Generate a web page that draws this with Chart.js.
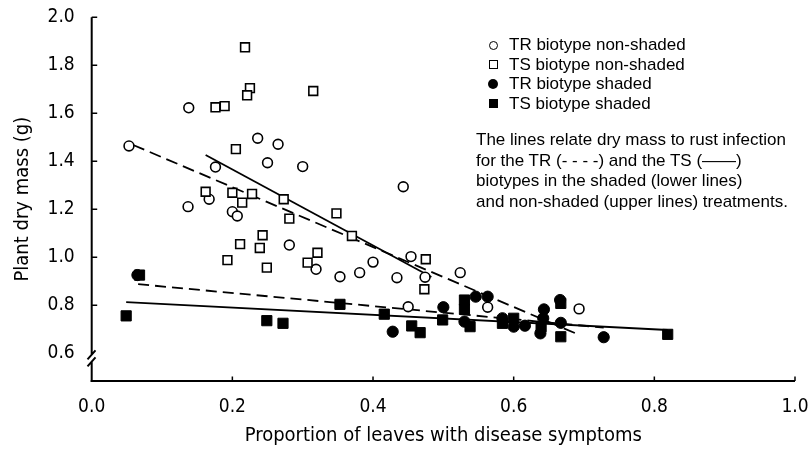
<!DOCTYPE html>
<html><head><meta charset="utf-8">
<script src="https://cdn.jsdelivr.net/npm/chart.js@4/dist/chart.umd.min.js"></script>
<style>
html,body{margin:0;padding:0;background:#fff;}
#wrap{position:relative;width:812px;height:449px;overflow:hidden;}
#c{position:absolute;left:0;top:0;}
.txt{position:absolute;font-family:"Liberation Sans",Arial,sans-serif;font-size:17px;color:#000;white-space:nowrap;}
.row{height:19.5px;line-height:19.5px;}
.mk{position:absolute;box-sizing:border-box;}
</style></head>
<body>
<div id="wrap">
<canvas id="c" width="812" height="449"></canvas>
<div class="txt" style="left:509px;top:35px;">
  <div class="row">TR biotype non-shaded</div>
  <div class="row">TS biotype non-shaded</div>
  <div class="row">TR biotype shaded</div>
  <div class="row">TS biotype shaded</div>
</div>
<div class="mk" style="left:488.5px;top:40.5px;width:9px;height:9px;border:1.5px solid #000;border-radius:50%;"></div>
<div class="mk" style="left:488.5px;top:60px;width:9px;height:9px;border:1.5px solid #000;"></div>
<div class="mk" style="left:488px;top:79px;width:10px;height:10px;background:#000;border-radius:50%;"></div>
<div class="mk" style="left:488.5px;top:98.5px;width:9.5px;height:9.5px;background:#000;"></div>
<div class="txt" style="left:476px;top:130px;line-height:20.5px;">
  The lines relate dry mass to rust infection<br>
  for the TR (- - - -) and the TS (——)<br>
  biotypes in the shaded (lower lines)<br>
  and non-shaded (upper lines) treatments.
</div>
</div>
<script>
// ---- data ----
const xTickValues = [0.0, 0.2, 0.4, 0.6, 0.8, 1.0];
const yTickValues = [0.6, 0.8, 1.0, 1.2, 1.4, 1.6, 1.8, 2.0];

// TR biotype non-shaded (open circles)
const trNonShadedX = [0.053,0.138,0.176,0.236,0.265,0.250,0.300,0.167,0.137,0.200,0.207,0.281,0.319,0.353,0.381,0.400,0.443,0.454,0.434,0.474,0.524,0.450,0.563,0.693];
const trNonShadedY = [1.464,1.623,1.376,1.496,1.471,1.394,1.378,1.242,1.211,1.190,1.172,1.051,0.950,0.919,0.936,0.980,1.294,1.003,0.915,0.917,0.936,0.794,0.792,0.785];

// TS biotype non-shaded (open squares)
const tsNonShadedX = [0.218,0.225,0.221,0.176,0.189,0.205,0.162,0.200,0.228,0.214,0.273,0.281,0.348,0.370,0.243,0.211,0.239,0.321,0.307,0.193,0.249,0.475,0.473,0.315];
const tsNonShadedY = [1.875,1.705,1.675,1.625,1.630,1.451,1.273,1.269,1.264,1.228,1.242,1.161,1.183,1.089,1.092,1.055,1.039,1.019,0.978,0.988,0.957,0.992,0.867,1.693];

// TR biotype shaded (filled circles)
const trShadedX = [0.065,0.428,0.500,0.546,0.563,0.530,0.584,0.600,0.616,0.642,0.643,0.638,0.666,0.667,0.728];
const trShadedY = [0.926,0.690,0.792,0.836,0.836,0.732,0.746,0.711,0.715,0.746,0.783,0.683,0.822,0.727,0.667];

// TS biotype shaded (filled squares)
const tsShadedX = [0.049,0.068,0.249,0.272,0.353,0.416,0.455,0.467,0.499,0.530,0.530,0.538,0.584,0.600,0.639,0.667,0.667,0.819];
const tsShadedY = [0.756,0.926,0.736,0.725,0.804,0.763,0.714,0.686,0.739,0.822,0.783,0.711,0.725,0.746,0.711,0.808,0.669,0.679];

// regression line end points
const fitTrNonShadedX = [0.059, 0.689], fitTrNonShadedY = [1.468, 0.682];
const fitTsNonShadedX = [0.162, 0.483], fitTsNonShadedY = [1.426, 0.918];
const fitTrShadedX    = [0.066, 0.728], fitTrShadedY    = [0.888, 0.707];
const fitTsShadedX    = [0.049, 0.819], fitTsShadedY    = [0.813, 0.697];

const pts = (xs, ys) => xs.map((x, i) => ({x: x, y: ys[i]}));

const axisDeco = {
  id: 'axisDeco',
  afterDraw(chart) {
    const ctx = chart.ctx, xs = chart.scales.x, ys = chart.scales.y;
    const x0 = xs.left, yb = ys.bottom;
    ctx.save();
    ctx.strokeStyle = '#000';
    ctx.lineWidth = 2;
    // x axis line
    ctx.beginPath(); ctx.moveTo(x0 - 1, yb); ctx.lineTo(xs.right, yb); ctx.stroke();
    // y axis line with break
    const yBrk = ys.getPixelForValue(0.6);
    ctx.beginPath();
    ctx.moveTo(x0, ys.top); ctx.lineTo(x0, yBrk + 1.3);
    ctx.moveTo(x0 + 3.8, yBrk - 3); ctx.lineTo(x0 - 4.2, yBrk + 6);
    ctx.moveTo(x0 + 3.8, yBrk + 4); ctx.lineTo(x0 - 4.2, yBrk + 13);
    ctx.moveTo(x0, yBrk + 8.3); ctx.lineTo(x0, yb + 1);
    ctx.stroke();
    // inward ticks
    ctx.lineWidth = 1.5;
    ctx.beginPath();
    xTickValues.forEach(v => { if (v > 0) { const p = xs.getPixelForValue(v); ctx.moveTo(p, yb); ctx.lineTo(p, yb - 4.5); } });
    yTickValues.forEach(v => { if (v > 0.61) { const p = ys.getPixelForValue(v); ctx.moveTo(x0, p); ctx.lineTo(x0 + 5.5, p); } });
    ctx.stroke();
    ctx.restore();
  }
};

const tickFont = {family: '"DejaVu Sans Condensed","DejaVu Sans",sans-serif', size: 19};
const titleFont = {family: '"DejaVu Sans Condensed","DejaVu Sans",sans-serif', size: 20};

new Chart(document.getElementById('c'), {
  type: 'scatter',
  data: {
    datasets: [
      {label: 'fit TR non-shaded', data: pts(fitTrNonShadedX, fitTrNonShadedY), showLine: true, pointRadius: 0, borderColor: '#000', borderWidth: 1.8, borderDash: [12, 6], order: 10},
      {label: 'fit TS non-shaded', data: pts(fitTsNonShadedX, fitTsNonShadedY), showLine: true, pointRadius: 0, borderColor: '#000', borderWidth: 1.8, order: 10},
      {label: 'fit TR shaded', data: pts(fitTrShadedX, fitTrShadedY), showLine: true, pointRadius: 0, borderColor: '#000', borderWidth: 1.8, borderDash: [11, 6], order: 10},
      {label: 'fit TS shaded', data: pts(fitTsShadedX, fitTsShadedY), showLine: true, pointRadius: 0, borderColor: '#000', borderWidth: 1.8, order: 10},
      {label: 'TR biotype non-shaded', data: pts(trNonShadedX, trNonShadedY), pointStyle: 'circle', pointRadius: 4.9, pointBorderWidth: 1.6, pointBorderColor: '#000', pointBackgroundColor: '#fff', order: 4},
      {label: 'TS biotype non-shaded', data: pts(tsNonShadedX, tsNonShadedY), pointStyle: 'rect', pointRadius: 6.2, pointBorderWidth: 1.6, pointBorderColor: '#000', pointBackgroundColor: '#fff', order: 3},
      {label: 'TR biotype shaded', data: pts(trShadedX, trShadedY), pointStyle: 'circle', pointRadius: 5.6, pointBorderWidth: 1, pointBorderColor: '#000', pointBackgroundColor: '#000', order: 2},
      {label: 'TS biotype shaded', data: pts(tsShadedX, tsShadedY), pointStyle: 'rect', pointRadius: 7.2, pointBorderWidth: 1, pointBorderColor: '#000', pointBackgroundColor: '#000', order: 1}
    ]
  },
  options: {
    responsive: false,
    animation: false,
    devicePixelRatio: 1,
    layout: {padding: {left: 0, right: 17, top: 17.3, bottom: 0}},
    plugins: {legend: {display: false}, tooltip: {enabled: false}},
    scales: {
      x: {
        type: 'linear', min: 0, max: 1,
        grid: {display: false, drawTicks: false},
        border: {display: false},
        afterBuildTicks: s => { s.ticks = xTickValues.map(v => ({value: v})); },
        afterFit: s => { s.height = 68; s.paddingLeft = 0; s.paddingRight = 0; },
        ticks: {color: '#000', font: tickFont, padding: 15, maxRotation: 0, callback: v => Number(v).toFixed(1)},
        title: {display: true, text: 'Proportion of leaves with disease symptoms', color: '#000', font: titleFont, padding: {top: 0, bottom: 1}}
      },
      y: {
        type: 'linear', min: 0.4846, max: 2.0,
        grid: {display: false, drawTicks: false},
        border: {display: false},
        afterBuildTicks: s => { s.ticks = yTickValues.map(v => ({value: v})); },
        afterFit: s => { s.width = 91.7; s.paddingTop = 0; s.paddingBottom = 0; },
        ticks: {color: '#000', font: tickFont, padding: 17, callback: v => Number(v).toFixed(1)},
        title: {display: true, text: 'Plant dry mass (g)', color: '#000', font: titleFont, padding: {top: 10.5, bottom: 0}}
      }
    }
  },
  plugins: [axisDeco]
});
</script>
</body></html>
